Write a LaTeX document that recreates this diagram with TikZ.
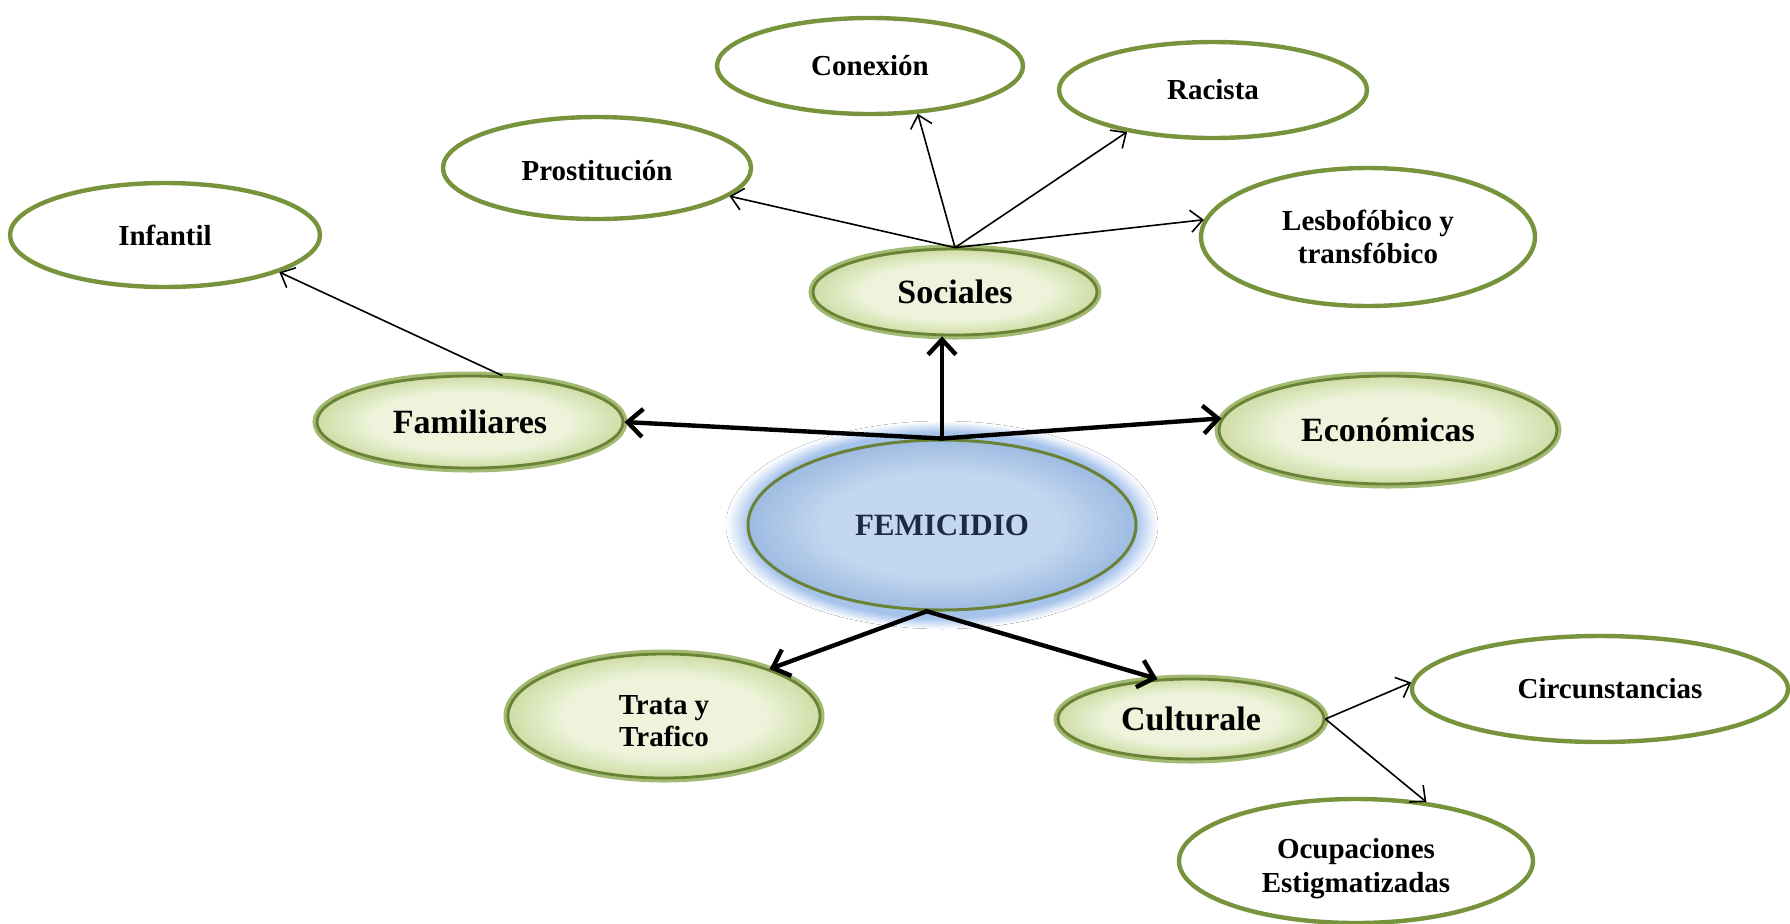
\documentclass[tikz,border=0pt]{standalone}
\usepackage{fontspec}
\setmainfont{Liberation Serif}
\usetikzlibrary{shapes.geometric,arrows.meta}
\definecolor{ogreen}{HTML}{77933C}
\definecolor{gdark}{HTML}{6A8236}
\definecolor{gmid}{HTML}{A3BA72}
\definecolor{gin}{HTML}{EEF4DC}
\definecolor{gout}{HTML}{CFDDA6}
\definecolor{bin}{HTML}{C4D7F0}
\definecolor{bout}{HTML}{9DBBE1}
\definecolor{glowc}{HTML}{A6C3EC}
\definecolor{femtext}{HTML}{1C2B45}
\pgfdeclareradialshading{gsh}{\pgfpoint{0bp}{0bp}}{color(0bp)=(gin); color(16bp)=(gin); color(25bp)=(gout); color(50bp)=(gout)}
\pgfdeclareradialshading{bsh}{\pgfpoint{0bp}{0bp}}{color(0bp)=(bin); color(15bp)=(bin); color(25bp)=(bout); color(50bp)=(bout)}
\pgfdeclareradialshading{glowsh}{\pgfpoint{0bp}{0bp}}{color(0bp)=(glowc); color(22.3bp)=(glowc); color(25bp)=(white); color(50bp)=(white)}
\tikzset{
  outl/.style={ellipse, draw=ogreen, line width=2.2pt, fill=white, inner sep=0pt, align=center,
    font=\fontsize{14.5}{16.5}\selectfont\bfseries},
  gnode/.style={ellipse, inner sep=0pt, align=center, preaction={draw=gmid, line width=4.5pt},
    draw=gdark, line width=1.4pt, shading=gsh, font=\fontsize{17}{16}\selectfont\bfseries},
  femnode/.style={ellipse, inner sep=0pt, draw=gdark, line width=1.5pt, shading=bsh,
    text=femtext, font=\fontsize{15.5}{18}\selectfont\bfseries},
  thinarrow/.style={line width=0.8pt, -{Straight Barb[length=6pt,width=11pt]}},
  thickarrow/.style={line width=2.2pt, line cap=round, -{Straight Barb[length=7.5pt,width=14pt]}}
}
\begin{document}
\begin{tikzpicture}[x=0.5pt,y=-0.5pt]
\useasboundingbox (0,0) rectangle (1790,923);
% glow
\fill[shading=glowsh] (942,525) ellipse [x radius=216, y radius=104];
\node[femnode, minimum width=194pt, minimum height=85pt] (fem) at (942,525) {FEMICIDIO};
% outline ellipses
\node[outl, minimum width=155pt, minimum height=52pt] (inf) at (165,235) {Infantil};
\node[outl, minimum width=154pt, minimum height=51pt] (pro) at (597,168) {\rule{0pt}{13pt}Prostitución};
\node[outl, minimum width=153pt, minimum height=48pt] (con) at (870,66) {Conexión};
\node[outl, minimum width=154pt, minimum height=48pt] (rac) at (1213,90) {Racista};
\node[outl, minimum width=167pt, minimum height=69pt] (les) at (1368,237) {Lesbofóbico y\\transfóbico};
\node[outl, minimum width=188pt, minimum height=53pt] (cir) at (1600,689) {\hspace*{10pt}Circunstancias};
\node[outl, minimum width=177pt, minimum height=62pt, font=\fontsize{14.5}{17}\selectfont\bfseries] (ocu) at (1356,861) {\rule{0pt}{17.5pt}Ocupaciones\\Estigmatizadas};
% filled green ellipses
\node[gnode, minimum width=142pt, minimum height=43pt] (soc) at (955,292) {Sociales};
\node[gnode, minimum width=153pt, minimum height=46pt] (fam) at (470,422) {Familiares};
\node[gnode, minimum width=169pt, minimum height=54pt] (eco) at (1388,430) {Económicas};
\node[gnode, minimum width=156pt, minimum height=62pt, font=\fontsize{14.5}{16}\selectfont\bfseries] (tra) at (664,716) {\rule{0pt}{15pt}Trata y\\Trafico};
\node[gnode, minimum width=133pt, minimum height=40pt] (cul) at (1191,719) {Culturale};
% thick arrows
\draw[thickarrow] (fem.north) -- (fam.east);
\draw[thickarrow] (fem.north) -- (eco.176);
\draw[thickarrow] (fem.north) -- (fem.north |- soc.south);
\draw[thickarrow] (fem.-100) -- (tra.24);
\draw[thickarrow] (fem.-100) -- (cul.130);
% thin arrows
\draw[thinarrow] (soc.north) -- (pro.-12);
\draw[thinarrow] (soc.north) -- (con.-45);
\draw[thinarrow] (soc.north) -- (rac.206);
\draw[thinarrow] (soc.north) -- (les.174);
\draw[thinarrow] (fam.55) -- (inf.-18);
\draw[thinarrow] (cul.east) -- (cir.178);
\draw[thinarrow] (cul.east) -- (ocu.40);
\end{tikzpicture}
\end{document}
